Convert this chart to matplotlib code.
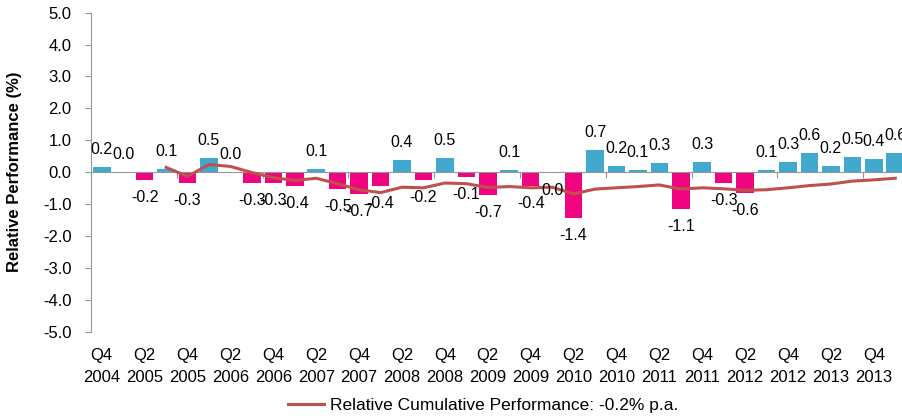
import numpy as np
import matplotlib
matplotlib.use('Agg')
import matplotlib.pyplot as plt

# quarterly relative performance, Q4 2004 .. Q1 2014
quarters = ['Q4 2004', 'Q1 2005', 'Q2 2005', 'Q3 2005', 'Q4 2005', 'Q1 2006', 'Q2 2006',
            'Q3 2006', 'Q4 2006', 'Q1 2007', 'Q2 2007', 'Q3 2007', 'Q4 2007', 'Q1 2008',
            'Q2 2008', 'Q3 2008', 'Q4 2008', 'Q1 2009', 'Q2 2009', 'Q3 2009', 'Q4 2009',
            'Q1 2010', 'Q2 2010', 'Q3 2010', 'Q4 2010', 'Q1 2011', 'Q2 2011', 'Q3 2011',
            'Q4 2011', 'Q1 2012', 'Q2 2012', 'Q3 2012', 'Q4 2012', 'Q1 2013', 'Q2 2013',
            'Q3 2013', 'Q4 2013', 'Q1 2014']
relative = [0.16, 0.02, -0.24, 0.10, -0.33, 0.45, 0.01, -0.34, -0.33, -0.44, 0.09, -0.54,
            -0.68, -0.44, 0.38, -0.24, 0.45, -0.14, -0.72, 0.07, -0.44, -0.04, -1.44, 0.68,
            0.18, 0.06, 0.28, -1.14, 0.32, -0.34, -0.64, 0.06, 0.32, 0.60, 0.18, 0.47,
            0.42, 0.60]
# cumulative line starts at Q3 2005
cumulative = [None, None, None, 0.15, -0.13, 0.24, 0.18, -0.01, -0.17, -0.26, -0.19, -0.36,
              -0.55, -0.64, -0.47, -0.49, -0.34, -0.36, -0.48, -0.45, -0.49, -0.47, -0.68,
              -0.53, -0.49, -0.45, -0.40, -0.53, -0.49, -0.52, -0.57, -0.55, -0.49, -0.42,
              -0.37, -0.28, -0.24, -0.19]
legend_label = 'Relative Cumulative Performance: -0.2% p.a.'

plt.rcParams['font.family'] = 'Liberation Sans'
plt.rcParams['font.size'] = 11.5

blue = '#41A8CE'
pink = '#F0047F'
red = '#C0504D'
grey = '#969696'

fig = plt.figure(figsize=(9.03, 4.19), dpi=100)
ax = fig.add_axes([91 / 903, 0.2084, 815 / 903, 0.7613])

x = np.arange(len(quarters))
vals = np.array(relative)
colors = [blue if v >= 0 else pink for v in vals]
ax.bar(x, vals, width=0.82, color=colors, zorder=2)

# value labels at the outer end of each bar
for xi, v in zip(x, vals):
    txt = '%.1f' % v
    if txt == '-0.0':
        txt = '0.0'
    off = 12.6 if v >= 0 else -12.6
    ax.annotate(txt, (xi, v), xytext=(0, off), textcoords='offset points',
                ha='center', va='center', fontsize=11.5, zorder=4)

cum = np.array([np.nan if c is None else c for c in cumulative])
line, = ax.plot(x, cum, color=red, lw=2.2, zorder=3, label=legend_label)

ax.set_xlim(-0.5, len(quarters) - 0.5)
ax.set_ylim(-5, 5)
ax.set_yticks(np.arange(-5, 5.1, 1))
ax.set_yticklabels(['%.1f' % t for t in np.arange(-5, 5.1, 1)])
ax.tick_params(axis='y', length=4, color=grey, pad=10, labelsize=12)

for s in ['top', 'right']:
    ax.spines[s].set_visible(False)
ax.spines['left'].set_color(grey)
ax.spines['bottom'].set_position(('data', 0))
ax.spines['bottom'].set_color(grey)
ax.set_xticks(np.arange(0, len(quarters) + 1, 4) - 0.5)
ax.set_xticklabels([])
ax.tick_params(axis='x', length=4.5, color=grey, direction='out')

# category labels along the bottom, every second quarter
sec = ax.secondary_xaxis(0.0)
pos = x[::2]
sec.set_xticks(pos)
sec.set_xticklabels([quarters[i].replace(' ', '\n') for i in pos], linespacing=1.55)
sec.tick_params(length=0, pad=12, labelsize=12)
sec.spines['bottom'].set_visible(False)

fig.text(15 / 903, 0.59, 'Relative Performance (%)', rotation=90, ha='center',
         va='center', fontsize=12, fontweight='bold')

fig.legend(handles=[line], loc='center', bbox_to_anchor=(0.535, 0.033), frameon=False,
           handlelength=2.1, handletextpad=0.35, fontsize=12.5)

fig.savefig('out.png', dpi=100)
